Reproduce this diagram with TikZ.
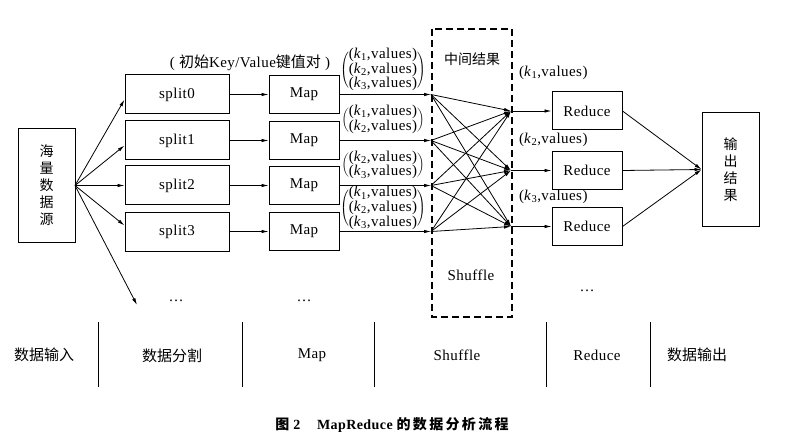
\documentclass[tikz,border=0pt]{standalone}
\usepackage{fontspec}
\setmainfont[LetterSpace=3]{Liberation Serif}
\newfontfamily\cjk{Noto Sans CJK SC}
\usetikzlibrary{arrows.meta}
\newcommand\kvpair[1]{(\textit{k}\textsubscript{#1},values)}
\newcommand\kvgroup[1]{$\left(\vcenter{\vskip-2.5pt\hbox{\begin{tabular}{@{}l@{}}#1\end{tabular}}\vskip-2.5pt}\right)$}
\begin{document}
\begin{tikzpicture}[x=1pt,y=-1pt,
  box/.style={draw,line width=1pt,inner sep=0pt,font=\fontsize{15}{17}\selectfont},
  splitbox/.style={box,minimum width=104pt,minimum height=39pt},
  mapbox/.style={box,minimum width=70pt,minimum height=38pt},
  tallbox/.style={box,minimum width=57pt,minimum height=113pt,align=center,font=\cjk\fontsize{14}{17}\selectfont},
  arr/.style={-{Latex[length=7pt,width=3.5pt]},line width=0.8pt},
  lbl/.style={inner sep=0pt,font=\fontsize{15}{17}\selectfont},
  clbl/.style={inner sep=0pt,font=\cjk\fontsize{14}{17}\selectfont},
  kv/.style={inner sep=0pt,font=\fontsize{15}{14}\selectfont},
  sep/.style={line width=1pt}]
\useasboundingbox (0,0) rectangle (799,438);

% source
\node[tallbox] (src) at (46.5,185.5) {海\\量\\数\\据\\源};
% splits
\node[splitbox] (s0) at (177,94.5) {split0};
\node[splitbox] (s1) at (177,140.5) {split1};
\node[splitbox] (s2) at (177,185.5) {split2};
\node[splitbox] (s3) at (177,231.5) {split3};
% maps
\node[mapbox] (p0) at (304,94.5) {Map};
\node[mapbox] (p1) at (304,140.5) {Map};
\node[mapbox] (p2) at (304,185.5) {Map};
\node[mapbox] (p3) at (304,231.5) {Map};
% reduces
\node[mapbox] (r1) at (587,111) {Reduce};
\node[mapbox] (r2) at (587,170.5) {Reduce};
\node[mapbox] (r3) at (587,226.5) {Reduce};
% output
\node[tallbox] (out) at (730.5,169.5) {输\\出\\结\\果};

% dashed shuffle box
\draw[dash pattern=on 7pt off 4pt,line width=1.1pt] (432,29) rectangle (512,317);
\node[clbl] (mid) at (472,59) {中间结果};
\node[lbl] (shf) at (471,275) {Shuffle};

% labels
\node[lbl] (init) at (250,63) {( {\cjk 初始}Key/Value{\cjk 键值对} )};
\node[kv] (g0) at (383,70) {\kvgroup{\kvpair1\\\kvpair2\\\kvpair3}};
\node[kv] (g1) at (383,120) {\kvgroup{\kvpair1\\\kvpair2}};
\node[kv] (g2) at (383,165.5) {\kvgroup{\kvpair2\\\kvpair3}};
\node[kv] (g3) at (383,208.5) {\kvgroup{\kvpair1\\\kvpair2\\\kvpair3}};
\node[kv,anchor=west] (k1) at (519,73) {\kvpair1};
\node[kv,anchor=west] (k2) at (519,140) {\kvpair2};
\node[kv,anchor=west] (k3) at (519,197) {\kvpair3};
\node[lbl] (d1) at (176,301) {\ldots};
\node[lbl] (d2) at (304,301) {\ldots};
\node[lbl] (d3) at (587,291) {\ldots};
\coordinate (dots) at (137,305);

% source to splits
\coordinate (so) at (75,185.5);
\draw[arr] (so) -- ([yshift=-5pt]s0.west);
\draw[arr] (so) -- ([yshift=-5pt]s1.west);
\draw[arr] (so) -- (s2.west);
\draw[arr] (so) -- ([yshift=6pt]s3.west);
\draw[arr] (so) -- (dots);

% splits to maps
\foreach \i in {0,1,2,3} \draw[arr] (s\i.east) -- (p\i.west);

% maps to shuffle points
\coordinate (m0) at (431,94.5);
\coordinate (m1) at (431,140.5);
\coordinate (m2) at (431,185.5);
\coordinate (m3) at (431,231.5);
\coordinate (q1) at (511,111);
\coordinate (q2) at (511,170.5);
\coordinate (q3) at (511,226.5);
\foreach \i in {0,1,2,3} \draw[arr] (p\i.east) -- (m\i);
\foreach \i in {0,1,2,3} \foreach \j in {1,2,3} \draw[arr] (m\i) -- (q\j);
\foreach \j in {1,2,3} \draw[arr] (q\j) -- (r\j.west);
\foreach \j in {1,2,3} \draw[arr] (r\j.east) -- (out.west);

% bottom phases
\coordinate (b1t) at (98,322); \coordinate (b1b) at (98,387);
\coordinate (b2t) at (242,322); \coordinate (b2b) at (242,387);
\coordinate (b3t) at (374,322); \coordinate (b3b) at (374,387);
\coordinate (b4t) at (546,322); \coordinate (b4b) at (546,387);
\coordinate (b5t) at (650,322); \coordinate (b5b) at (650,387);
\foreach \k in {1,...,5} \draw[sep] (b\k t) -- (b\k b);
\node[clbl,font=\cjk\fontsize{15}{17}\selectfont] (ph1) at (44,355) {数据输入};
\node[clbl,font=\cjk\fontsize{15}{17}\selectfont] (ph2) at (172,356) {数据分割};
\node[lbl] (ph3) at (312,355) {Map};
\node[lbl] (ph4) at (457,355) {Shuffle};
\node[lbl] (ph5) at (597,355) {Reduce};
\node[clbl,font=\cjk\fontsize{15}{17}\selectfont] (ph6) at (697,355) {数据输出};

% caption
\node[inner sep=0pt,font=\bfseries\fontsize{14}{17}\selectfont] (cap) at (392,425)
  {{\cjk 图} 2\hspace{1.2em}MapReduce {\cjk 的\,数\,据\,分\,析\,流\,程}};
\end{tikzpicture}
\end{document}
